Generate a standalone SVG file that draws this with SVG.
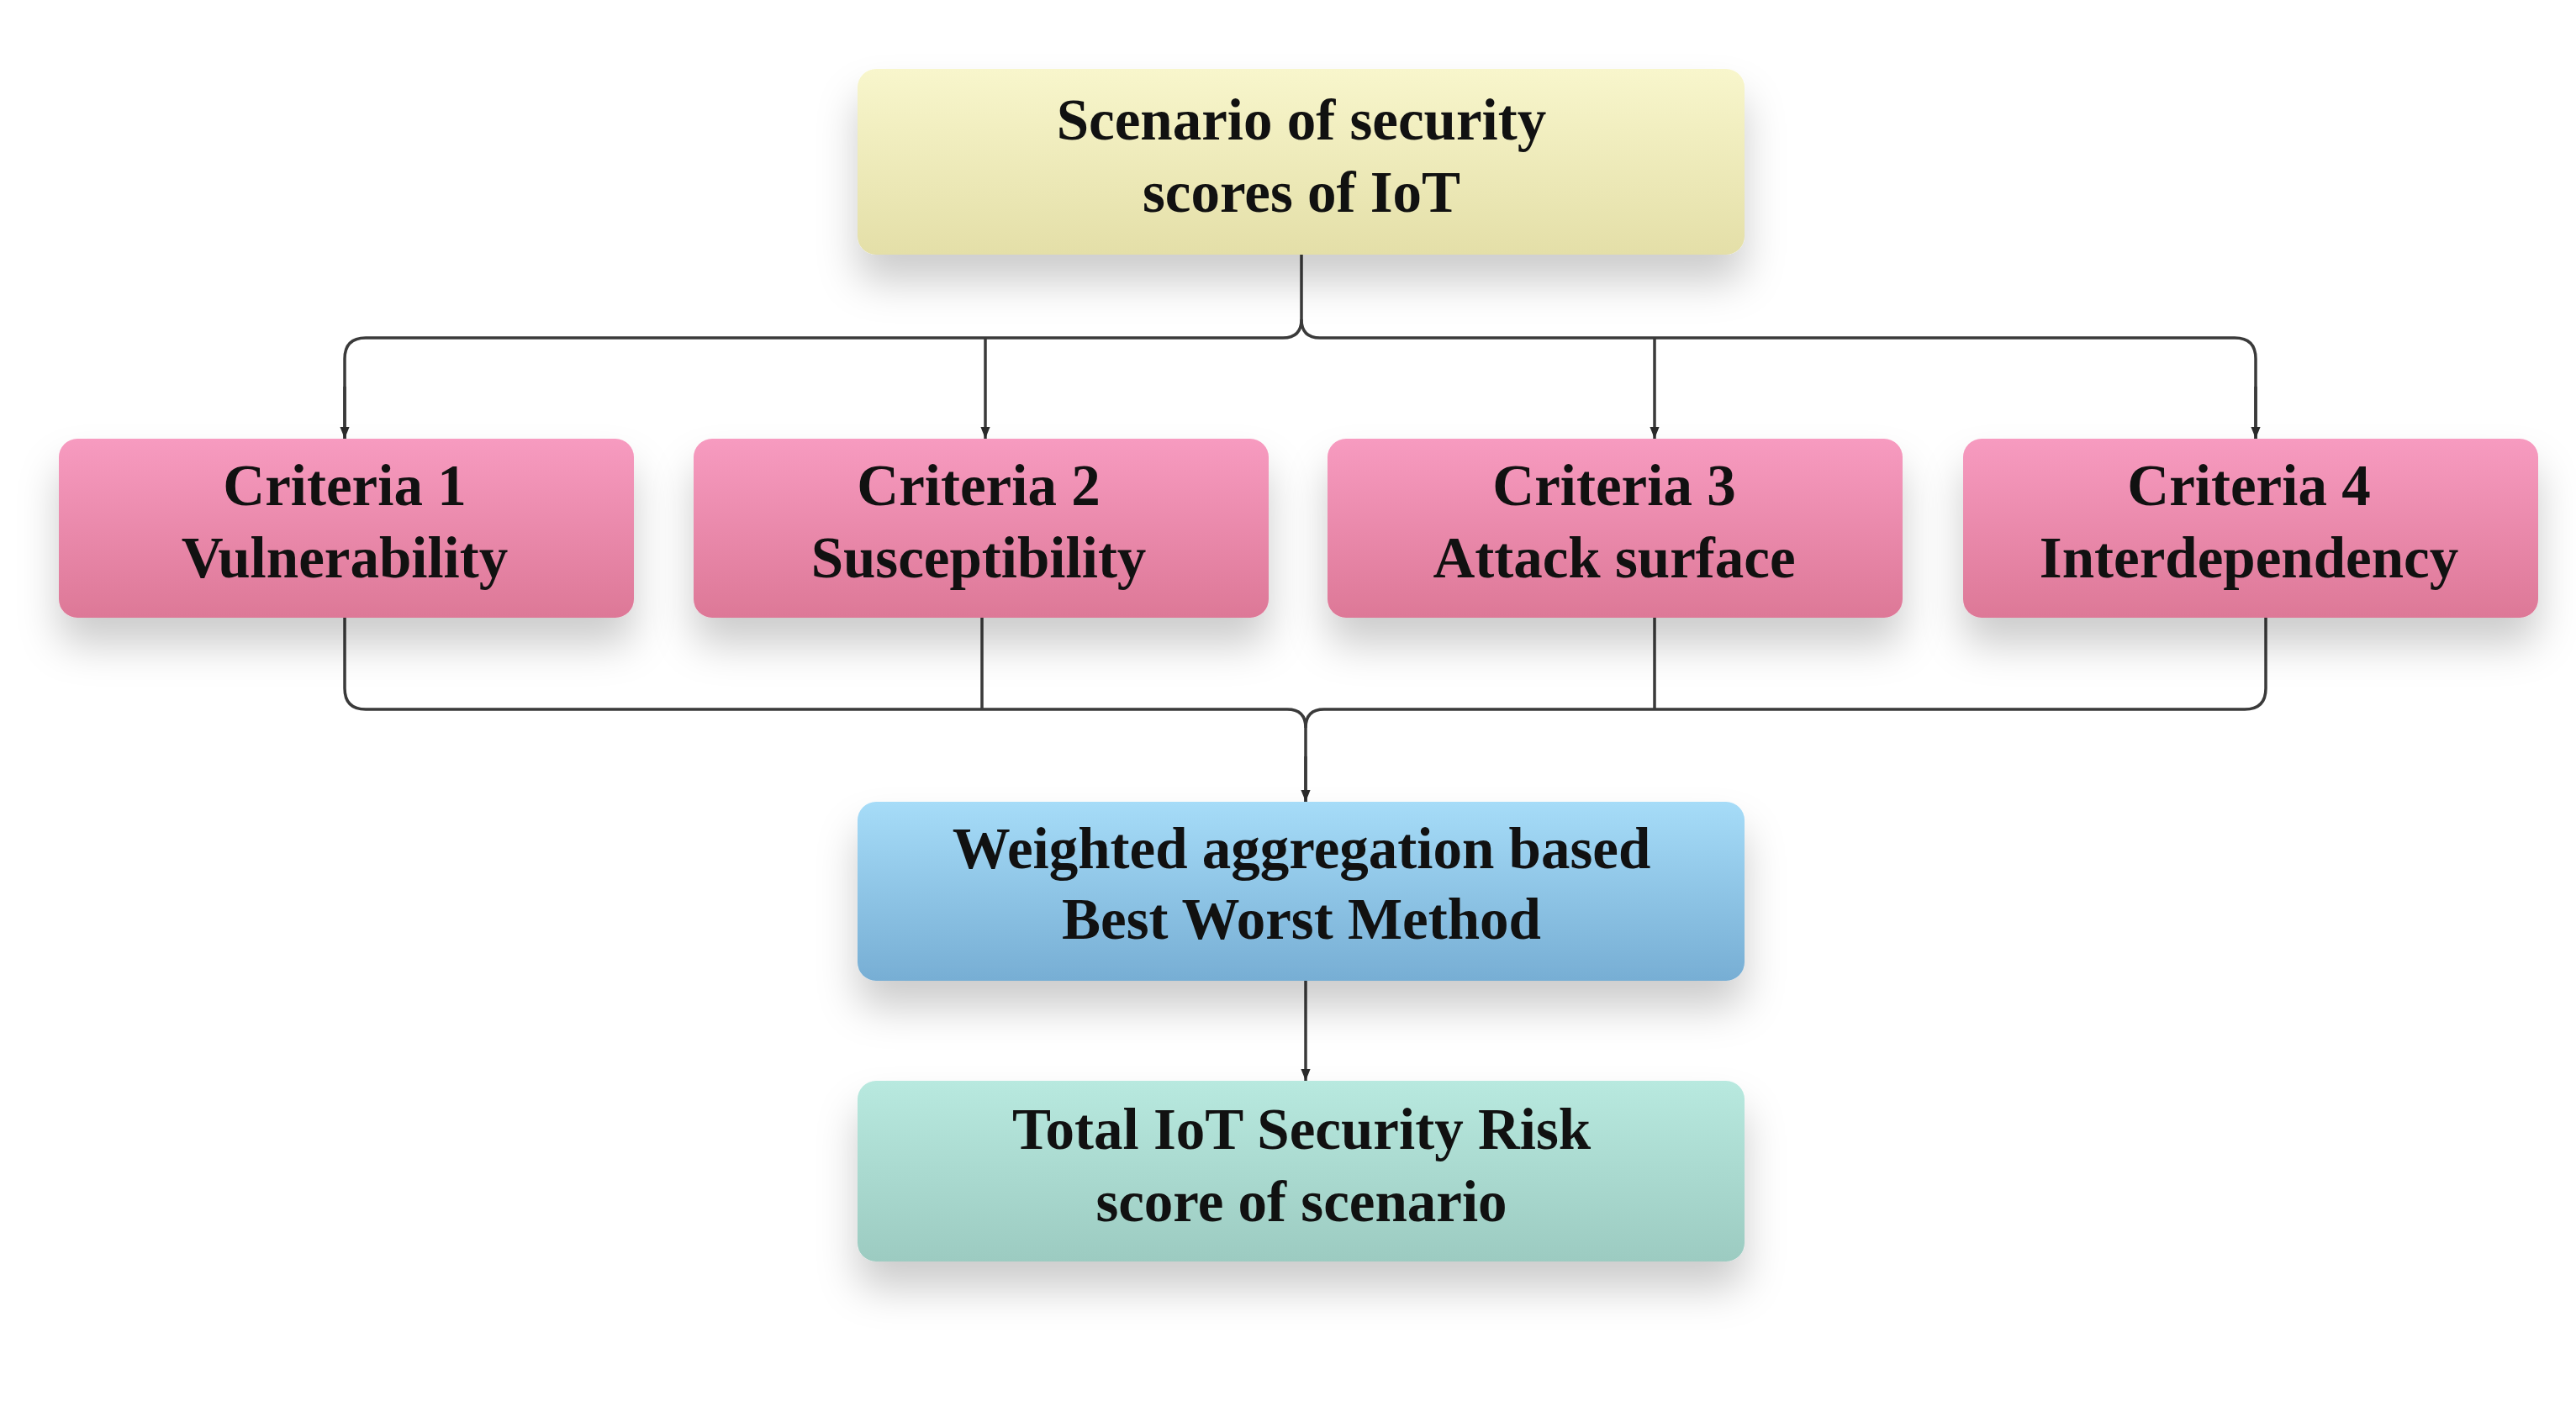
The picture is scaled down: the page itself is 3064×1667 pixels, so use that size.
<svg xmlns="http://www.w3.org/2000/svg" width="3064" height="1667" viewBox="0 0 3064 1667">
<defs>
<linearGradient id="gY" x1="0" y1="0" x2="0" y2="1"><stop offset="0" stop-color="#f8f6cc"/><stop offset="1" stop-color="#e4dfa8"/></linearGradient>
<linearGradient id="gP" x1="0" y1="0" x2="0" y2="1"><stop offset="0" stop-color="#f79bc0"/><stop offset="1" stop-color="#dd7897"/></linearGradient>
<linearGradient id="gB" x1="0" y1="0" x2="0" y2="1"><stop offset="0" stop-color="#a6dcf8"/><stop offset="1" stop-color="#77aed4"/></linearGradient>
<linearGradient id="gT" x1="0" y1="0" x2="0" y2="1"><stop offset="0" stop-color="#b8e9df"/><stop offset="1" stop-color="#9ccbc1"/></linearGradient>
<filter id="sh" x="-10%" y="-25%" width="120%" height="200%">
<feDropShadow dx="0" dy="32" stdDeviation="24" flood-color="#000" flood-opacity="0.2"/>
</filter>
<marker id="ar" viewBox="0 0 10 10" refX="10" refY="5" markerWidth="14" markerHeight="14" markerUnits="userSpaceOnUse" orient="auto">
<path d="M0,1 L10,5 L0,9 Z" fill="#2a2a2a"/>
</marker>
</defs>
<style>
.box{filter:url(#sh);}
.t{font-family:"Liberation Serif","Times New Roman",serif;font-weight:bold;font-size:69px;fill:#111111;text-anchor:middle;}
.c{fill:none;stroke:#3a3a3a;stroke-width:3.5;}
.a{marker-end:url(#ar);}
</style>
<rect width="3064" height="1667" fill="#ffffff"/>
<g id="connectors">
<path class="c" d="M1548,303 V380 Q1548,402 1526,402 H435 Q410,402 410,427 V522"/>
<path class="c a" d="M410,460 V522"/>
<path class="c" d="M1548,380 Q1548,402 1570,402 H2658 Q2683,402 2683,427 V522"/>
<path class="c a" d="M2683,460 V522"/>
<path class="c a" d="M1172,402 V522"/>
<path class="c a" d="M1968,402 V522"/>
<path class="c" d="M410,735 V819 Q410,844 435,844 H1531 Q1553,844 1553,866 V954"/>
<path class="c" d="M2695,735 V819 Q2695,844 2670,844 H1575 Q1553,844 1553,866"/>
<path class="c a" d="M1553,900 V954"/>
<path class="c" d="M1168,735 V844"/>
<path class="c" d="M1968,735 V844"/>
<path class="c a" d="M1553,1167 V1286"/>
</g>
<g id="n_top">
<rect class="box" x="1020" y="82" width="1055" height="221" rx="22" fill="url(#gY)"/>
<text class="t" x="1548" y="166">Scenario of security</text>
<text class="t" x="1548" y="252">scores of IoT</text>
</g>
<g id="n_c1">
<rect class="box" x="70" y="522" width="684" height="213" rx="22" fill="url(#gP)"/>
<text class="t" x="410" y="601">Criteria 1</text>
<text class="t" x="410" y="687">Vulnerability</text>
</g>
<g id="n_c2">
<rect class="box" x="825" y="522" width="684" height="213" rx="22" fill="url(#gP)"/>
<text class="t" x="1164" y="601">Criteria 2</text>
<text class="t" x="1164" y="687">Susceptibility</text>
</g>
<g id="n_c3">
<rect class="box" x="1579" y="522" width="684" height="213" rx="22" fill="url(#gP)"/>
<text class="t" x="1920" y="601">Criteria 3</text>
<text class="t" x="1920" y="687">Attack surface</text>
</g>
<g id="n_c4">
<rect class="box" x="2335" y="522" width="684" height="213" rx="22" fill="url(#gP)"/>
<text class="t" x="2675" y="601">Criteria 4</text>
<text class="t" x="2675" y="687">Interdependency</text>
</g>
<g id="n_bwm">
<rect class="box" x="1020" y="954" width="1055" height="213" rx="22" fill="url(#gB)"/>
<text class="t" x="1548" y="1033">Weighted aggregation based</text>
<text class="t" x="1548" y="1117">Best Worst Method</text>
</g>
<g id="n_total">
<rect class="box" x="1020" y="1286" width="1055" height="215" rx="22" fill="url(#gT)"/>
<text class="t" x="1548" y="1367">Total IoT Security Risk</text>
<text class="t" x="1548" y="1453">score of scenario</text>
</g>
</svg>
